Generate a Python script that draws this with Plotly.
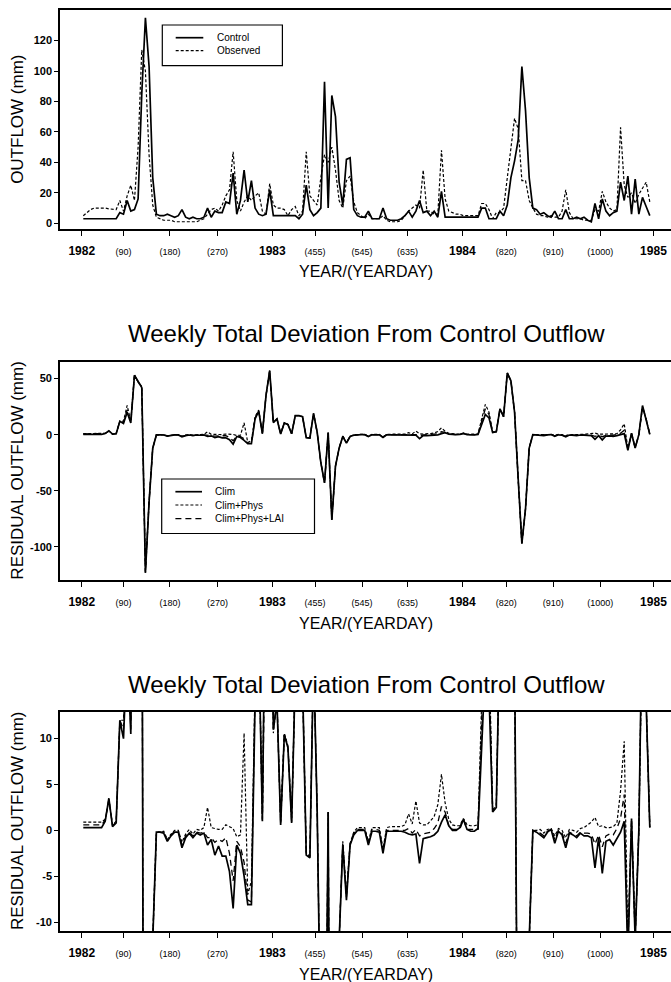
import plotly.graph_objects as go

# ---------------- data ----------------
weeks = list(range(156))
days = [3 + 7 * w for w in weeks]  # weekly totals, day index from 1 Jan 1982

tick_days = [0, 80, 169, 260, 365, 447, 537, 624, 729, 813, 903, 993, 1095]
tick_labels = ["1982", "(90)", "(180)", "(270)", "1983", "(455)", "(545)",
               "(635)", "1984", "(820)", "(910)", "(1000)", "1985"]

control = [
    3, 3, 3, 3, 3, 3, 3, 3, 3, 3,
    7, 6, 15, 8, 9, 16, 85, 135, 103, 30,
    6, 5, 5, 6, 5, 4, 5, 9, 4, 3,
    4, 3, 3, 4, 10, 4, 8, 7, 7, 14,
    13, 33, 6, 15, 35, 14, 28, 10, 6, 5,
    6, 22, 5, 5, 5, 5, 5, 5, 5, 3,
    6, 25, 9, 5, 7, 10, 93, 10, 84, 70,
    27, 12, 42, 43, 9, 5, 4, 4, 8, 3,
    3, 3, 10, 3, 2, 2, 2, 3, 5, 8,
    4, 8, 15, 7, 8, 5, 8, 4, 21, 4,
    4, 4, 4, 4, 4, 4, 4, 4, 4, 10,
    10, 3, 3, 3, 8, 5, 12, 30, 41, 55,
    103, 74, 30, 10, 9, 6, 7, 5, 4, 8,
    3, 3, 9, 3, 3, 4, 3, 4, 2, 1,
    13, 3, 16, 8, 5, 7, 8, 27, 15, 31,
    6, 29, 6, 17, 11, 5,
]

observed = [
    5, 7, 9, 10, 10, 10, 10, 9.5, 9, 9,
    15, 8, 18, 25, 15, 50, 114, 100, 45, 12,
    4, 3, 2, 2, 2, 1, 1, 1, 1, 1,
    1, 1, 2, 3, 6, 9, 10, 8, 12, 18,
    22, 47, 15, 8, 14, 18, 15, 18, 20, 8,
    6, 26, 12, 10, 10, 9, 5, 9, 11, 5,
    8, 47, 18, 15, 12, 30, 45, 40, 50, 35,
    15, 10, 28, 31, 14, 7, 5, 3, 6, 3,
    3, 3, 5, 2, 1, 1, 1, 2, 5, 8,
    10, 12, 10, 35, 8, 8, 6, 6, 48, 16,
    8, 7, 6, 6, 5, 5, 5, 5, 5, 13,
    13, 9, 3, 7, 7, 10, 30, 50, 69, 62,
    28, 28, 15, 10, 6, 5, 5, 4, 5, 4,
    4, 8, 22, 7, 3, 3, 3, 2, 2, 2,
    9, 8, 21, 14, 10, 8, 9, 63, 25, 17,
    20, 13, 19, 23, 27, 14,
]

clim = [
    0.3, 0.3, 0.3, 0.3, 0.3, 0.3, 1.0, 3.5, 0.4, 0.8,
    12, 10, 20, 10.5, 53, 47, 42, -123, -60, -12,
    -0.2, -0.2, -0.3, -1.2, -0.6, -0.2, -0.2, -1.9, -0.8, -0.3,
    -0.8, -0.3, -0.5, -0.3, -1.6, -1.0, -2.7, -1.7, -2.8, -2.8,
    -4.5, -8.5, -1.6, -2.5, -5.0, -8.1, -8.1, 14, 21, 1.0,
    35, 57, 11, 14, 0.6, 10.4, 9.0, 0.8, 17, 17,
    16, -2.7, -3.0, 19, 2, -25, -43, 2, -76, -28,
    -12, -1.6, -7.6, -1.6, -0.5, 0, 0, 0, -1.6, -0.1,
    -0.1, -0.2, -2.5, -0.1, -0.1, -0.1, -0.1, -0.1, -0.2, -0.4,
    -0.5, -0.4, -3.6, -0.9, -0.8, -0.7, -0.5, -0.1, 0.9, 1.7,
    0.5, 0, 0, 0.3, 1.2, 0.1, -0.1, -0.1, 0.2, 10,
    18, 15, 2.0, 2.5, 23, 16, 55, 48, 20, -40,
    -97, -66, -12, 0, -0.2, -0.5, -0.8, -0.2, 0.1, -1.4,
    -0.1, -0.5, -1.9, -0.3, -0.5, -0.8, -0.3, -0.6, -0.6, -0.8,
    -4.1, -0.8, -4.7, -1.2, -1.0, -1.6, -0.9, -0.2, 1.0, -14,
    1.3, -12, 0, 26, 14, 0.3,
]

clim_phys = [
    0.9, 0.9, 0.9, 0.9, 0.9, 0.9, 1.2, 3.3, 0.6, 1.0,
    12, 12, 26, 12, 53, 47, 43, -122, -59, -12,
    -0.2, -0.2, -0.1, -1.0, -0.4, 0.0, 0.0, -1.3, -0.4, 0.1,
    -0.4, 0.1, 0.0, 0.3, 2.5, 0.3, 0.2, 0.1, 0.1, 0.6,
    0.4, 0.2, -0.7, -0.5, 10.6, -7.0, -5.5, 16, 22, 1.2,
    35, 57, 10.6, 14, 0.8, 10.6, 9.2, 1.0, 17, 17,
    16, -2.5, -2.8, 19, 2, -25, -43, 2, -76, -28,
    -12, -1.2, -7.0, -1.4, -0.2, 0.3, 0.3, 0.3, -1.2, 0.3,
    0.3, 0.3, -2.0, 0.3, 0.4, 0.4, 0.4, 0.4, 0.6, 1.8,
    0.7, 3.2, 0.8, 0.6, 0.6, 1.0, 1.5, 2.8, 6.1, 3.0,
    1.2, 0.6, 0.5, 0.5, 1.3, 0.6, 0.5, 0.5, 0.6, 14,
    27, 20, 2.2, 2.7, 23, 16, 55, 48, 20, -40,
    -97, -66, -12, 0, 0, 0.1, -0.3, 0.1, 0.2, -0.6,
    0.2, 0, -0.8, 0.1, 0, -0.2, 0.2, 0.3, 0.6, 0.9,
    1.4, 0.4, 0.5, 0.3, 0.3, 0.4, 0.8, 4.3, 9.7, -12,
    1.0, -11.5, 0, 24, 14, 0.4,
]

clim_phys_lai = [
    0.6, 0.6, 0.6, 0.6, 0.6, 0.6, 1.1, 3.4, 0.5, 0.9,
    12, 11, 22, 11, 53, 47, 42, -123, -60, -12,
    -0.2, -0.2, -0.2, -1.1, -0.5, -0.1, -0.1, -1.6, -0.6, -0.2,
    -0.6, -0.2, -0.3, -0.2, -0.8, -0.8, -1.3, -1.0, -1.2, -0.8,
    -2.5, -5.5, -1.2, -1.8, -3.5, -7.6, -7.8, 15, 21, 1.1,
    35, 57, 11, 14, 0.7, 10.5, 9.1, 0.9, 17, 17,
    16, -2.6, -2.9, 19, 2, -25, -43, 2, -76, -28,
    -12, -1.4, -7.3, -1.5, -0.3, 0.1, 0.1, 0.1, -1.4, 0.1,
    0.1, 0.0, -2.2, 0.0, 0.0, 0.0, 0.0, 0.0, 0.0, 0.2,
    -0.3, 0.1, -0.6, -0.4, -0.3, -0.2, 0.2, 0.8, 2.6, 2.0,
    0.5, 0.1, 0.1, 0.1, 1.2, 0.1, 0.1, 0.1, 0.1, 12,
    23, 18, 2.1, 2.6, 23, 16, 55, 48, 20, -40,
    -97, -66, -12, 0, -0.1, -0.3, -0.6, -0.1, 0.1, -1.0,
    0, -0.3, -1.4, -0.2, -0.4, -0.6, -0.2, -0.3, -0.3, -0.4,
    -1.5, -0.5, -1.8, -0.6, -0.4, -0.5, 0.2, 1.3, 3.9, -13,
    1.2, -11.8, 0, 25, 14, 0.3,
]

for name, s in [("control", control), ("observed", observed), ("clim", clim),
                ("clim_phys", clim_phys), ("clim_phys_lai", clim_phys_lai)]:
    if len(s) != len(days):
        raise ValueError(f"{name} has {len(s)} values, expected {len(days)}")

y1_ticks = [0, 20, 40, 60, 80, 100, 120]
y2_ticks = [-100, -50, 0, 50]
y3_ticks = [-10, -5, 0, 5, 10]

title_text = "Weekly Total Deviation From Control Outflow"

# ---------------- layout helpers ----------------
W, H = 671, 982
L = 60
FONT = "Liberation Sans, Arial, Helvetica, sans-serif"


def px2x(px):
    return (px - L) / (W - L)


def py2y(py):
    return 1 - py / H


# panel pixel boxes (top, bottom)
panels = [(10, 228.7), (362.3, 580.0), (712.0, 931.0)]
yranges = [[-3.55, 140.1], [-129.5, 64.5], [-10.97, 12.9]]
xrange_days = [-41.6, 1128.6]

ticktext = [f"<b>{t}</b>" if not t.startswith("(")
            else f"<span style='font-size:9px'>{t}</span>" for t in tick_labels]

fig = go.Figure()

SOLID = dict(color="black", width=1.7)
DOT = dict(color="black", width=1.2, dash="3px,2px")
DASH = dict(color="black", width=1.3, dash="6px,4px")

# panel 1
fig.add_trace(go.Scatter(x=days, y=observed, mode="lines", line=DOT,
                         xaxis="x", yaxis="y", showlegend=False))
fig.add_trace(go.Scatter(x=days, y=control, mode="lines", line=SOLID,
                         xaxis="x", yaxis="y", showlegend=False))
# panels 2 and 3 (same series, different y zoom)
for xa, ya in [("x2", "y2"), ("x3", "y3")]:
    fig.add_trace(go.Scatter(x=days, y=clim_phys_lai, mode="lines", line=DASH,
                             xaxis=xa, yaxis=ya, showlegend=False))
    fig.add_trace(go.Scatter(x=days, y=clim_phys, mode="lines", line=DOT,
                             xaxis=xa, yaxis=ya, showlegend=False))
    fig.add_trace(go.Scatter(x=days, y=clim, mode="lines", line=SOLID,
                             xaxis=xa, yaxis=ya, showlegend=False))

layout = dict(
    width=W, height=H,
    margin=dict(l=L, r=0, t=0, b=0, pad=0),
    paper_bgcolor="white", plot_bgcolor="white",
    font=dict(family=FONT, color="black"),
    showlegend=False,
)

ytick_sets = [y1_ticks, y2_ticks, y3_ticks]
for k in range(3):
    top, bot = panels[k]
    sfx = "" if k == 0 else str(k + 1)
    layout["xaxis" + sfx] = dict(
        domain=[0, 1], range=xrange_days, anchor="y" + sfx,
        showline=True, linecolor="black", linewidth=1.6, mirror=True,
        ticks="outside", ticklen=5, tickwidth=1.2, tickcolor="black",
        tickvals=tick_days, ticktext=ticktext,
        tickfont=dict(family=FONT, size=12, color="black"),
        ticklabelstandoff=5,
        showgrid=False, zeroline=False, automargin=False, fixedrange=True,
    )
    layout["yaxis" + sfx] = dict(
        domain=[py2y(bot), py2y(top)], range=yranges[k], anchor="x" + sfx,
        showline=True, linecolor="black", linewidth=1.6, mirror=False,
        ticks="outside", ticklen=4, tickwidth=1.2, tickcolor="black",
        tickvals=ytick_sets[k], ticktext=[f"<b>{v}</b>" for v in ytick_sets[k]],
        tickfont=dict(family=FONT, size=11, color="black"),
        showgrid=False, zeroline=False, automargin=False, fixedrange=True,
    )

fig.update_layout(**layout)

annotations = []
shapes = []

# axis titles
ytitles = ["OUTFLOW (mm)", "RESIDUAL OUTFLOW (mm)", "RESIDUAL OUTFLOW (mm)"]
for k in range(3):
    top, bot = panels[k]
    annotations.append(dict(
        text=ytitles[k], xref="paper", yref="paper",
        x=px2x(17.5), y=py2y((top + bot) / 2), xanchor="center", yanchor="middle",
        textangle=-90, showarrow=False, font=dict(family=FONT, size=17, color="black")))
    annotations.append(dict(
        text="YEAR/(YEARDAY)", xref="paper", yref="paper",
        x=px2x(365.5), y=py2y(bot + 43), xanchor="center", yanchor="middle",
        showarrow=False, font=dict(family=FONT, size=16, color="black")))

# panel titles
for py in [334, 684]:
    annotations.append(dict(
        text=title_text, xref="paper", yref="paper",
        x=px2x(366), y=py2y(py), xanchor="center", yanchor="middle",
        showarrow=False, font=dict(family=FONT, size=24, color="black")))

# legend 1
shapes.append(dict(type="rect", xref="paper", yref="paper",
                   x0=px2x(162.3), x1=px2x(282.4), y0=py2y(65.7), y1=py2y(25),
                   line=dict(color="black", width=1.2), fillcolor="white"))
leg1 = [("Control", SOLID, 37.7), ("Observed", DOT, 50.7)]
for name, st, py in leg1:
    shapes.append(dict(type="line", xref="paper", yref="paper",
                       x0=px2x(175.7), x1=px2x(203.3), y0=py2y(py), y1=py2y(py),
                       line=dict(color="black", width=st["width"], dash=st.get("dash", "solid"))))
    annotations.append(dict(text=name, xref="paper", yref="paper",
                            x=px2x(215), y=py2y(py), xanchor="left", yanchor="middle",
                            showarrow=False, font=dict(family=FONT, size=10, color="black")))

# legend 2
shapes.append(dict(type="rect", xref="paper", yref="paper",
                   x0=px2x(161.7), x1=px2x(314.5), y0=py2y(533.5), y1=py2y(479),
                   line=dict(color="black", width=1.2), fillcolor="white"))
leg2 = [("Clim", SOLID, 491.7), ("Clim+Phys", DOT, 505.0), ("Clim+Phys+LAI", DASH, 518.7)]
for name, st, py in leg2:
    shapes.append(dict(type="line", xref="paper", yref="paper",
                       x0=px2x(175.4), x1=px2x(202), y0=py2y(py), y1=py2y(py),
                       line=dict(color="black", width=st["width"], dash=st.get("dash", "solid"))))
    annotations.append(dict(text=name, xref="paper", yref="paper",
                            x=px2x(213), y=py2y(py), xanchor="left", yanchor="middle",
                            showarrow=False, font=dict(family=FONT, size=10, color="black")))

fig.update_layout(annotations=annotations, shapes=shapes)

fig.write_html("out.html")
